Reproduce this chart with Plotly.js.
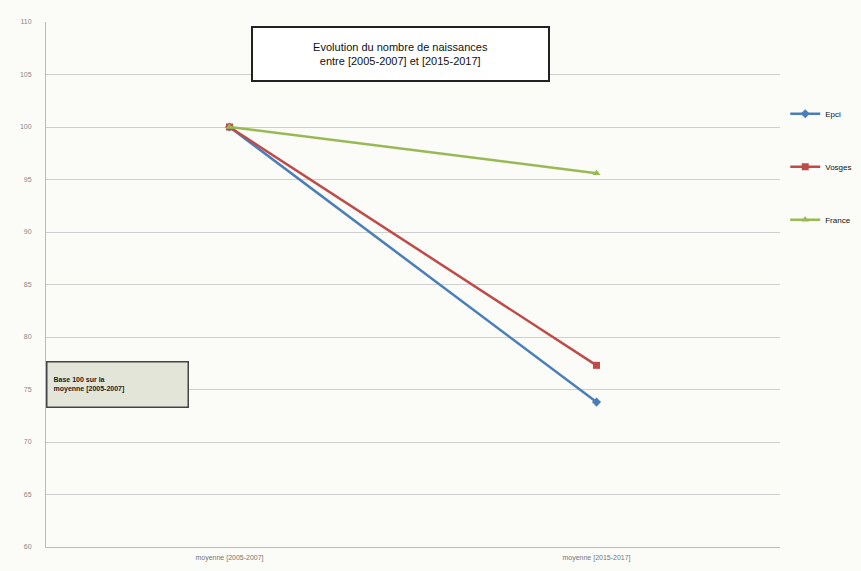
<!DOCTYPE html>
<html>
<head>
<meta charset="utf-8">
<script src="https://cdn.plot.ly/plotly-3.0.1.min.js"></script>
<style>html,body{margin:0;padding:0;background:#fbfbf7;}#chart{width:861px;height:571px;}</style>
</head>
<body>
<div id="chart"></div>
<script>
const categories = ["moyenne [2005-2007]", "moyenne [2015-2017]"];
const epci = [100, 73.8];
const vosges = [100, 77.3];
const france = [100, 95.6];
const yTicks = [60, 65, 70, 75, 80, 85, 90, 95, 100, 105, 110];

function tr(name, y, color, symbol, group) {
  return {
    x: categories, y: y, name: name, type: 'scatter', mode: 'lines+markers',
    line: {color: color, width: 2.5},
    marker: {color: color, symbol: symbol, size: 7},
    legendgroup: group
  };
}

const data = [
  tr('Epci', epci, '#4a7ebb', 'diamond', 'a'),
  tr('Vosges', vosges, '#be4b48', 'square', 'b'),
  tr('France', france, '#98b954', 'triangle-up', 'c')
];

const layout = {
  width: 861, height: 571,
  margin: {l: 46, r: 81, t: 22, b: 24, autoexpand: false},
  paper_bgcolor: '#fbfbf7', plot_bgcolor: '#fbfbf7',
  font: {family: 'Liberation Sans, Arial, sans-serif', color: '#222'},
  xaxis: {
    type: 'category', range: [-0.5, 1.5],
    showgrid: false, showline: true, linecolor: '#bbb', linewidth: 1,
    ticks: '', tickfont: {size: 7, color: '#777'}, ticklabelstandoff: 4, zeroline: false
  },
  yaxis: {
    range: [60, 110], tickvals: yTicks, ticktext: yTicks.map(String),
    showgrid: true, gridcolor: '#cfcfcf', gridwidth: 1,
    showline: true, linecolor: '#bbb', linewidth: 1,
    ticks: '', tickfont: {size: 7, color: '#888'}, ticklabelstandoff: 12, zeroline: false
  },
  showlegend: true,
  legend: {
    xref: 'container', x: 0.912, xanchor: 'left', y: 0.853, yanchor: 'top',
    traceorder: 'grouped', tracegroupgap: 34,
    font: {size: 8, color: '#111', family: 'Liberation Sans, Arial, sans-serif'},
    bgcolor: 'rgba(0,0,0,0)', itemwidth: 30
  },
  annotations: [
    {
      xref: 'paper', yref: 'paper', x: 0.4825, y: 0.939, xanchor: 'center', yanchor: 'middle',
      text: 'Evolution du nombre de naissances<br>entre [2005-2007] et [2015-2017]',
      showarrow: false, font: {size: 11, color: '#111'},
      bgcolor: '#ffffff', bordercolor: '#222', borderwidth: 2,
      width: 293, height: 50
    },
    {
      xref: 'paper', yref: 'paper', x: 0, y: 0.31, xanchor: 'left', yanchor: 'middle',
      text: '<b>Base 100 sur la<br>moyenne [2005-2007]</b>', align: 'left',
      showarrow: false, font: {size: 7, color: '#222'},
      bgcolor: '#e3e5d8', bordercolor: '#444', borderwidth: 1.5, borderpad: 6,
      width: 128, height: 32
    }
  ]
};

Plotly.newPlot('chart', data, layout, {displayModeBar: false, staticPlot: true});
</script>
</body>
</html>
